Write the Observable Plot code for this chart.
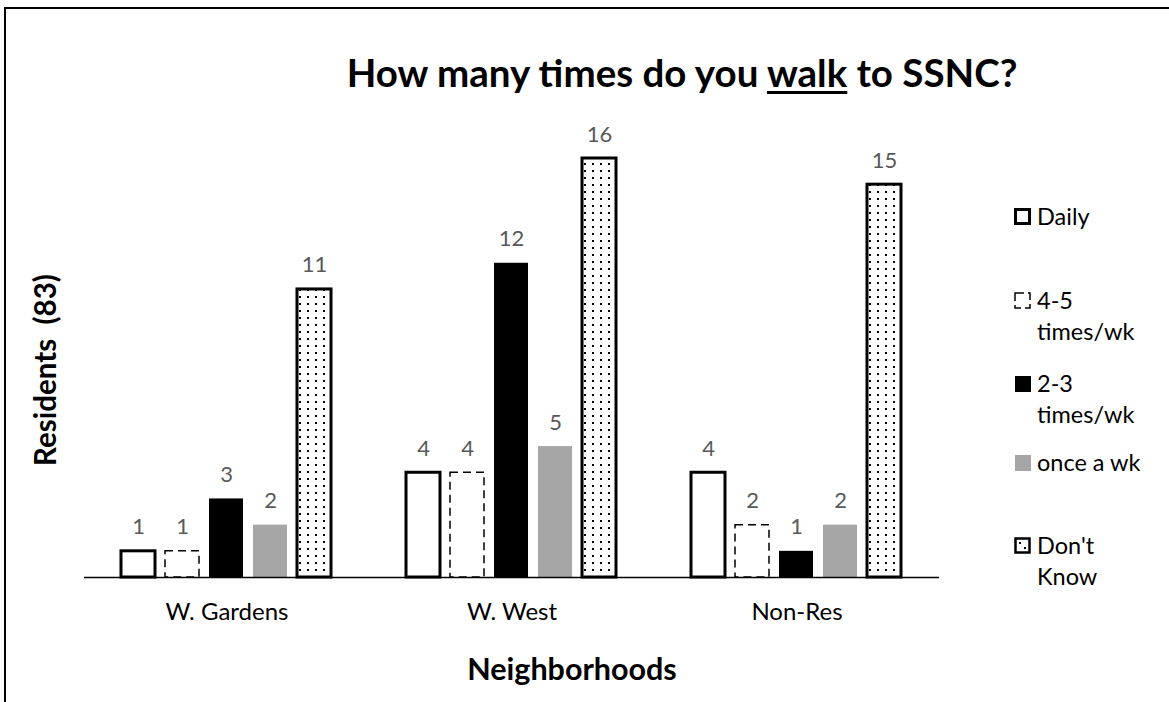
<!DOCTYPE html>
<html>
<head>
<meta charset="utf-8">
<script src="https://cdn.jsdelivr.net/npm/d3@7"></script>
<script src="https://cdn.jsdelivr.net/npm/@observablehq/plot@0.6"></script>
<style>
  html, body { margin: 0; padding: 0; background: white; overflow: hidden; }
  #wrap { position: relative; width: 1169px; height: 702px; overflow: hidden; font-family: Lato, sans-serif; color: #000; }
  #frame { position: absolute; left: 4px; top: 7px; width: 1300px; height: 900px; border: 2px solid #000; box-sizing: border-box; }
  #chart { position: absolute; left: 0; top: 0; }
  #title { position: absolute; left: 0; width: 1364px; top: 51px; text-align: center; font-weight: bold; font-size: 38.5px; line-height: 42px; white-space: nowrap; }
  #title u { text-decoration-thickness: 3px; text-underline-offset: 4px; }
  #ylab { position: absolute; left: 44px; top: 370px; transform: translate(-50%, -50%) rotate(-90deg); font-weight: bold; font-size: 29.5px; white-space: pre; }
  #xlab { position: absolute; left: 572px; top: 668px; transform: translate(-50%, -50%); font-weight: bold; font-size: 30.5px; white-space: nowrap; }
  .leg { position: absolute; left: 1014px; font-size: 23.5px; line-height: 31px; }
  .leg svg { position: absolute; left: 0; top: 7px; }
  .leg .t { position: absolute; left: 23px; top: 0; white-space: nowrap; }
</style>
</head>
<body>
<div id="wrap">
  <div id="frame"></div>
  <div id="chart"></div>
  <div id="title">How many times do you <u>walk</u> to SSNC?</div>
  <div id="ylab">Residents  (83)</div>
  <div id="xlab">Neighborhoods</div>
  <div id="legend"></div>
</div>
<script>
const groups = ["W. Gardens", "W. West", "Non-Res"];
const categories = ["Daily", "4-5 times/wk", "2-3 times/wk", "once a wk", "Don't Know"];
const daily = [1, 4, 4];
const times45 = [1, 4, 2];
const times23 = [3, 12, 1];
const onceWk = [2, 5, 2];
const dontKnow = [11, 16, 15];

const series = [daily, times45, times23, onceWk, dontKnow];
const rows = [];
categories.forEach((c, i) => groups.forEach((g, j) => rows.push({group: g, cat: c, value: series[i][j]})));
const of = c => rows.filter(d => d.cat === c);

const plot = Plot.plot({
  width: 1169,
  height: 702,
  marginLeft: 84,
  marginRight: 230,
  marginTop: 158,
  marginBottom: 125,
  style: {fontFamily: "Lato, sans-serif", fontSize: "24px", color: "#000", background: "transparent"},
  fx: {domain: groups, padding: 0, axis: "bottom", tickSize: 0, tickPadding: 25, label: null},
  x: {domain: categories, paddingInner: 0.227, paddingOuter: 0.83, axis: null},
  y: {domain: [0, 16], axis: null},
  marks: [
    Plot.barY(of("Daily"), {fx: "group", x: "cat", y: "value", fill: "white", stroke: "black", strokeWidth: 3}),
    Plot.barY(of("4-5 times/wk"), {fx: "group", x: "cat", y: "value", fill: "white", stroke: "black", strokeWidth: 1.5, strokeDasharray: "8,5"}),
    Plot.barY(of("2-3 times/wk"), {fx: "group", x: "cat", y: "value", fill: "black"}),
    Plot.barY(of("once a wk"), {fx: "group", x: "cat", y: "value", fill: "#a6a6a6"}),
    Plot.barY(of("Don't Know"), {fx: "group", x: "cat", y: "value", fill: "url(#dots)", stroke: "black", strokeWidth: 3}),
    Plot.ruleY([0], {stroke: "black", strokeWidth: 1.5}),
    Plot.text(rows, {fx: "group", x: "cat", y: "value", text: d => String(d.value), dy: -24, lineAnchor: "middle", fill: "#595959", fontSize: 22})
  ]
});
plot.insertAdjacentHTML("afterbegin",
  '<defs><pattern id="dots" width="8" height="7" patternUnits="userSpaceOnUse">' +
  '<rect width="8" height="7" fill="white"/><rect x="3" y="2" width="2" height="2" fill="black"/></pattern></defs>');
document.getElementById("chart").appendChild(plot);

// legend
const legendItems = [
  {label: "Daily", top: 201, icon: '<rect x="1.5" y="1.5" width="14" height="14" fill="white" stroke="black" stroke-width="3"/>'},
  {label: "4-5<br>times/wk", top: 285, icon: '<rect x="1" y="1" width="15" height="15" fill="white" stroke="black" stroke-width="1.5" stroke-dasharray="9,4"/>'},
  {label: "2-3<br>times/wk", top: 368, icon: '<rect x="1" y="1" width="16" height="16" fill="black"/>'},
  {label: "once a wk", top: 447, icon: '<rect x="1" y="1" width="16" height="16" fill="#a6a6a6"/>'},
  {label: "Don't<br>Know", top: 530, icon: '<rect x="1.5" y="1.5" width="14" height="14" fill="white" stroke="black" stroke-width="2.5"/><rect x="5" y="5" width="2" height="2" fill="black"/><rect x="10" y="10" width="2" height="2" fill="black"/>'}
];
const leg = document.getElementById("legend");
legendItems.forEach(it => {
  const d = document.createElement("div");
  d.className = "leg";
  d.style.top = it.top + "px";
  d.innerHTML = '<svg width="18" height="18">' + it.icon + '</svg><span class="t">' + it.label + '</span>';
  leg.appendChild(d);
});
</script>
</body>
</html>
